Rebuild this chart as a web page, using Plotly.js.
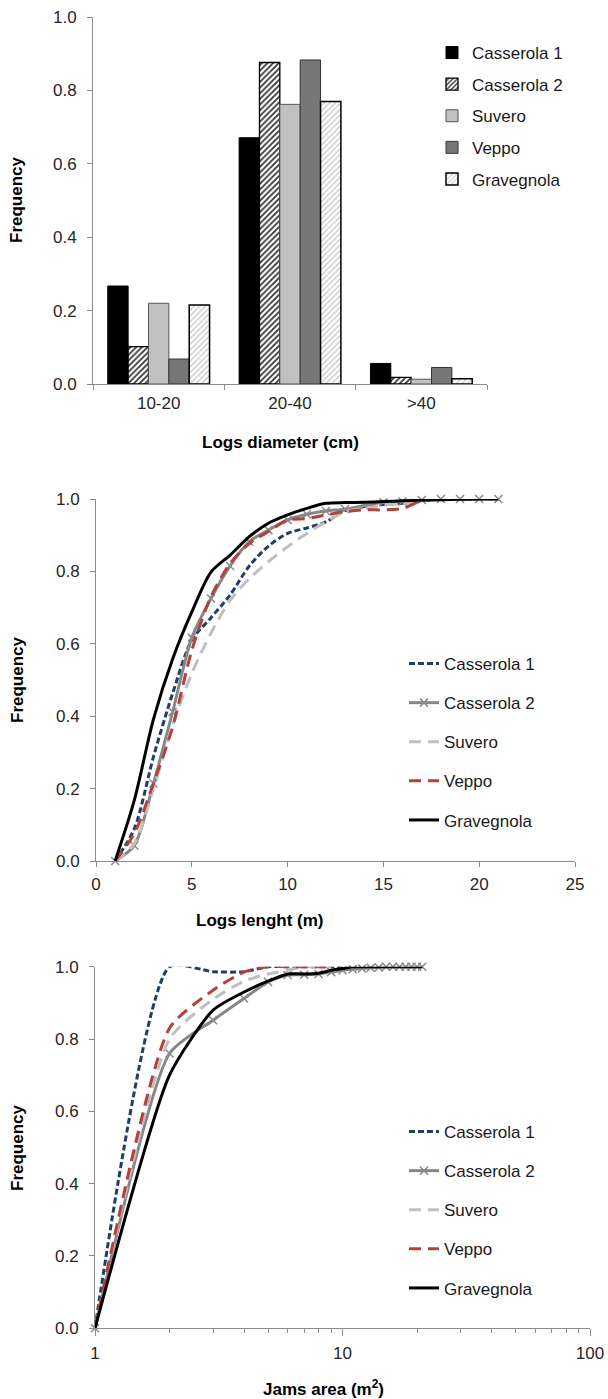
<!DOCTYPE html>
<html>
<head>
<meta charset="utf-8">
<script src="https://cdn.plot.ly/plotly-3.0.1.min.js"></script>
<style>html,body{margin:0;padding:0;background:#fff;}#chart{width:608px;height:1399px;}</style>
</head>
<body>
<div id="chart"></div>
<script>
// ---------- DATA ----------
const seriesNames = ['Casserola 1', 'Casserola 2', 'Suvero', 'Veppo', 'Gravegnola'];

// Chart 1: logs diameter classes
const diameterClasses = ['10-20', '20-40', '>40'];
const casserola1Diam = [0.267, 0.671, 0.056];
const casserola2Diam = [0.102, 0.876, 0.018];
const suveroDiam = [0.220, 0.762, 0.013];
const veppoDiam = [0.068, 0.883, 0.045];
const gravegnolaDiam = [0.215, 0.770, 0.014];

// Chart 2: logs length (m), cumulative frequency
const lengthX = [1, 2, 3, 4, 5, 6, 7, 8, 9, 10, 11, 12, 13, 14, 15, 16, 17, 18, 19, 20, 21];
const casserola1Len = [0, 0.089, 0.288, 0.463, 0.610, 0.672, 0.735, 0.815, 0.870, 0.905, 0.920, 0.937, 0.968, 0.979, 0.985, 0.988, 0.995, 1.0];
const casserola2Len = [0, 0.043, 0.214, 0.412, 0.617, 0.725, 0.815, 0.882, 0.914, 0.942, 0.958, 0.967, 0.972, 0.982, 0.991, 0.993, 0.997, 1.0, 1.0, 1.0, 1.0];
const suveroLen = [0, 0.048, 0.200, 0.375, 0.518, 0.630, 0.720, 0.780, 0.827, 0.868, 0.905, 0.937, 0.965, 0.974, 0.983, 0.988, 0.995, 1.0];
const veppoLen = [0, 0.076, 0.215, 0.370, 0.582, 0.730, 0.822, 0.877, 0.910, 0.942, 0.946, 0.956, 0.965, 0.970, 0.970, 0.974, 0.995, 1.0];
const gravegnolaLen = [0, 0.168, 0.392, 0.558, 0.688, 0.798, 0.845, 0.896, 0.933, 0.956, 0.974, 0.988, 0.990, 0.991, 0.993, 0.995, 0.997, 0.998, 0.999, 1.0, 1.0];

// Chart 3: jams area (m2), cumulative frequency (log x)
const areaX = [1, 2, 3, 4, 5, 6, 7, 8, 9, 10, 11, 12, 13, 14, 15, 16, 17, 18, 19, 20, 21];
const casserola1Area = [0, 1.0, 0.986, 0.986, 1.0, 1.0, 1.0, 1.0, 1.0, 1.0];
const casserola2Area = [0, 0.760, 0.852, 0.912, 0.958, 0.977, 0.978, 0.980, 0.985, 0.990, 0.993, 0.995, 0.997, 0.998, 1.0, 1.0, 1.0, 1.0, 1.0, 1.0, 1.0];
const suveroArea = [0, 0.800, 0.910, 0.960, 0.980, 0.990, 1.0, 1.0, 1.0];
const veppoArea = [0, 0.830, 0.935, 0.985, 1.0, 1.0, 1.0, 1.0, 1.0];
const gravegnolaArea = [0, 0.700, 0.880, 0.930, 0.960, 0.980, 0.980, 0.982, 0.990, 0.995, 1.0, 1.0, 1.0, 1.0, 1.0, 1.0, 1.0, 1.0, 1.0, 1.0, 1.0];

// ---------- STYLES ----------
const W = 608, H = 1399;
const px = v => v / W;
const py = v => 1 - v / H;
const FONT = 'Liberation Sans, Arial, sans-serif';

const barStyles = [
  {color: '#000000', line: {color: '#000000', width: 1}},
  {color: '#ffffff', line: {color: '#000000', width: 1.3}, pattern: {shape: '/', fgcolor: '#2e2e2e', bgcolor: '#ffffff', size: 4, solidity: 0.42}},
  {color: '#c0c0c0', line: {color: '#555555', width: 1}},
  {color: '#777777', line: {color: '#333333', width: 1}},
  {color: '#ffffff', line: {color: '#000000', width: 1.5}, pattern: {shape: '/', fgcolor: '#c4c4c4', bgcolor: '#ffffff', size: 4, solidity: 0.3}}
];
const lineStyles = [
  {line: {color: '#1f3f66', width: 3, dash: '6px,3px'}, mode: 'lines'},
  {line: {color: '#878787', width: 3, dash: 'solid'}, mode: 'lines+markers',
   marker: {symbol: 'x-thin', size: 8, color: '#8a8a8a', line: {color: '#8a8a8a', width: 1.5}}},
  {line: {color: '#bfbfbf', width: 3, dash: '12px,7px'}, mode: 'lines'},
  {line: {color: '#b5403e', width: 3, dash: '12px,7px'}, mode: 'lines'},
  {line: {color: '#000000', width: 3, dash: 'solid'}, mode: 'lines'}
];

const diamSeries = [casserola1Diam, casserola2Diam, suveroDiam, veppoDiam, gravegnolaDiam];
const lenSeries = [casserola1Len, casserola2Len, suveroLen, veppoLen, gravegnolaLen];
const areaSeries = [casserola1Area, casserola2Area, suveroArea, veppoArea, gravegnolaArea];

const traces = [];
diamSeries.forEach((vals, i) => {
  traces.push({
    type: 'bar', name: seriesNames[i], x: diameterClasses, y: vals,
    xaxis: 'x', yaxis: 'y', marker: barStyles[i], legend: 'legend',
    legendgroup: 'd' + i, hoverinfo: 'x+y+name'
  });
});
lenSeries.forEach((vals, i) => {
  const s = lineStyles[i];
  const t = {
    type: 'scatter', name: seriesNames[i], x: lengthX.slice(0, vals.length), y: vals,
    xaxis: 'x2', yaxis: 'y2', mode: s.mode, line: Object.assign({shape: 'spline', smoothing: 0.8}, s.line),
    legend: 'legend2', legendgroup: 'l' + i, cliponaxis: false
  };
  if (s.marker) t.marker = s.marker;
  traces.push(t);
});
areaSeries.forEach((vals, i) => {
  const s = lineStyles[i];
  const t = {
    type: 'scatter', name: seriesNames[i], x: areaX.slice(0, vals.length), y: vals,
    xaxis: 'x3', yaxis: 'y3', mode: s.mode, line: Object.assign({shape: 'spline', smoothing: 0.6}, s.line),
    legend: 'legend3', legendgroup: 'a' + i, cliponaxis: false
  };
  if (s.marker) t.marker = s.marker;
  traces.push(t);
});

const axisBase = {
  showline: true, linecolor: '#8c8c8c', linewidth: 1, mirror: false,
  ticks: 'outside', ticklen: 5, tickcolor: '#8c8c8c', tickwidth: 1,
  showgrid: false, zeroline: false, fixedrange: true,
  tickfont: {family: FONT, size: 17, color: '#262626'}
};
const yBase = Object.assign({}, axisBase, {range: [0, 1], dtick: 0.2, tick0: 0, tickformat: '.1f', ticklabelstandoff: 7});

const legendBase = {
  xanchor: 'left', yanchor: 'top', bgcolor: 'rgba(0,0,0,0)', borderwidth: 0,
  font: {family: FONT, size: 17, color: '#1a1a1a'}, traceorder: 'grouped'
};

const titleFont = {family: FONT, size: 17, color: '#000000'};
function ann(text, x, y, angle) {
  return {text: '<b>' + text + '</b>', xref: 'paper', yref: 'paper', x: px(x), y: py(y),
          xanchor: 'center', yanchor: 'middle', showarrow: false, textangle: angle || 0, font: titleFont};
}

const layout = {
  width: W, height: H, margin: {l: 0, r: 0, t: 0, b: 0},
  paper_bgcolor: '#ffffff', plot_bgcolor: '#ffffff',
  font: {family: FONT, size: 17, color: '#262626'},
  barmode: 'group', bargap: 0.225, bargroupgap: 0,
  showlegend: true,
  xaxis: Object.assign({}, axisBase, {domain: [px(93), px(487)], anchor: 'y', type: 'category',
    tickson: 'boundaries', range: [-0.5, 2.5], ticklabelstandoff: 4}),
  yaxis: Object.assign({}, yBase, {domain: [py(384), py(17)], anchor: 'x'}),
  xaxis2: Object.assign({}, axisBase, {domain: [px(96), px(575)], anchor: 'y2', range: [0, 25], dtick: 5, tick0: 0, ticklabelstandoff: 3}),
  yaxis2: Object.assign({}, yBase, {domain: [py(861), py(499)], anchor: 'x2'}),
  xaxis3: Object.assign({}, axisBase, {domain: [px(95), px(590)], anchor: 'y3', type: 'log', range: [0, 2], dtick: 1,
    ticklen: 7, ticklabelstandoff: 2,
    minor: {ticks: 'outside', ticklen: 4, tickcolor: '#8c8c8c', dtick: 'D1', showgrid: false}}),
  yaxis3: Object.assign({}, yBase, {domain: [py(1328.3), py(966.7)], anchor: 'x3'}),
  legend: Object.assign({}, legendBase, {x: px(432), y: py(35), tracegroupgap: 6.5}),
  legend2: Object.assign({}, legendBase, {x: px(404), y: py(646), tracegroupgap: 14}),
  legend3: Object.assign({}, legendBase, {x: px(404), y: py(1114), tracegroupgap: 14}),
  annotations: [
    ann('Frequency', 17, 200, -90),
    ann('Logs diameter (cm)', 280, 442),
    ann('Frequency', 17, 680, -90),
    ann('Logs lenght (m)', 259, 920),
    ann('Frequency', 17, 1148, -90),
    ann('Jams area (m<sup>2</sup>)', 323, 1388)
  ]
};

Plotly.newPlot('chart', traces, layout, {staticPlot: true, displayModeBar: false});
</script>
</body>
</html>
